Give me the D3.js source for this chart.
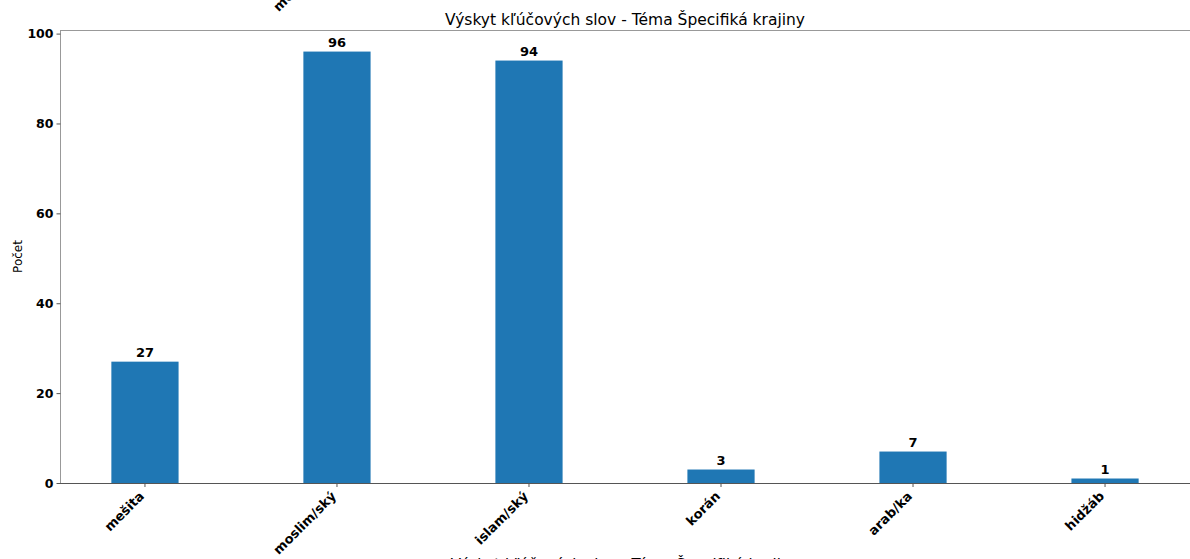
<!DOCTYPE html>
<html>
<head>
<meta charset="utf-8">
<script src="https://cdn.jsdelivr.net/npm/d3@7"></script>
<style>
  body { margin: 0; background: #fff; }
  svg { font-family: "DejaVu Sans", sans-serif; display: block; }
  .tick-lbl { font-size: 13px; font-weight: bold; fill: #000; }
  .val-lbl { font-size: 13px; font-weight: bold; fill: #000; }
</style>
</head>
<body>
<div id="chart"></div>
<script>
// keyword counts
var categories = ["mešita", "moslim/ský", "islam/ský", "korán", "arab/ka", "hidžáb"];
var counts = [27, 96, 94, 3, 7, 1];
var yTicks = [0, 20, 40, 60, 80, 100];
var chartTitle = "Výskyt kľúčových slov - Téma Špecifiká krajiny";
var yLabel = "Počet";

var width = 1190, height = 559;
var margin = {top: 30, right: 0, bottom: 76, left: 60};
var barWidth = 0.35;

var svg = d3.select("#chart").append("svg")
    .attr("width", width)
    .attr("height", height);

var x = d3.scaleLinear()
    .domain([-barWidth / 2 - 0.2675, categories.length - 1 + barWidth / 2 + 0.2675])
    .range([margin.left, width - margin.right]);

var y = d3.scaleLinear()
    .domain([0, d3.max(counts) * 1.05])
    .range([height - margin.bottom, margin.top]);

var y0 = y(0);

// bars
svg.selectAll(".bar")
    .data(counts)
    .enter()
    .append("rect")
    .attr("class", "bar")
    .attr("x", function(d, i) { return x(i - barWidth / 2); })
    .attr("width", function(d, i) { return x(i + barWidth / 2) - x(i - barWidth / 2); })
    .attr("y", function(d) { return y(d); })
    .attr("height", function(d) { return y0 - y(d); })
    .attr("fill", "#1f77b4");

// value labels
svg.selectAll(".val-lbl")
    .data(counts)
    .enter()
    .append("text")
    .attr("class", "val-lbl")
    .attr("x", function(d, i) { return x(i); })
    .attr("y", function(d) { return y(d) - 5; })
    .attr("text-anchor", "middle")
    .text(function(d) { return d; });

// spines
svg.append("line").attr("x1", margin.left).attr("x2", width)
    .attr("y1", margin.top + 0.5).attr("y2", margin.top + 0.5)
    .attr("stroke", "#999").attr("stroke-width", 1);
svg.append("line").attr("x1", margin.left + 0.5).attr("x2", margin.left + 0.5)
    .attr("y1", margin.top).attr("y2", y0)
    .attr("stroke", "#999").attr("stroke-width", 1);
svg.append("line").attr("x1", margin.left).attr("x2", width)
    .attr("y1", y0 + 0.5).attr("y2", y0 + 0.5)
    .attr("stroke", "#555").attr("stroke-width", 1);

// y axis
var yAxis = svg.append("g")
    .attr("transform", "translate(" + (margin.left + 0.5) + ",0)")
    .call(d3.axisLeft(y).tickValues(yTicks).tickSize(4).tickPadding(3));
yAxis.select(".domain").remove();
yAxis.selectAll(".tick line").attr("stroke", "#555");
yAxis.selectAll(".tick text")
    .attr("class", "tick-lbl")
    .style("font-family", "DejaVu Sans, sans-serif")
    .style("font-size", "12.5px")
    .attr("font-size", null);

// x ticks + rotated labels
var xt = svg.selectAll(".xtick")
    .data(categories)
    .enter()
    .append("g")
    .attr("class", "xtick")
    .attr("transform", function(d, i) { return "translate(" + x(i) + "," + y0 + ")"; });
xt.append("line").attr("y1", 0).attr("y2", 4).attr("stroke", "#555");
xt.append("text")
    .attr("class", "tick-lbl")
    .attr("text-anchor", "end")
    .attr("transform", "translate(0,14) rotate(-45)")
    .text(function(d) { return d; });

// title
svg.append("text")
    .attr("x", (margin.left + width) / 2)
    .attr("y", 25)
    .attr("text-anchor", "middle")
    .style("font-size", "15.5px")
    .text(chartTitle);

// y label
svg.append("text")
    .attr("transform", "translate(22," + ((margin.top + y0) / 2) + ") rotate(-90)")
    .attr("text-anchor", "middle")
    .style("font-size", "12px")
    .text(yLabel);

// x label (clipped at bottom)
svg.append("text")
    .attr("x", (margin.left + width) / 2)
    .attr("y", 570)
    .attr("text-anchor", "middle")
    .style("font-size", "15px")
    .text(chartTitle);

// leftover label of the plot above (clipped at top)
svg.append("text")
    .attr("class", "tick-lbl")
    .attr("text-anchor", "end")
    .attr("transform", "translate(" + x(1) + "," + (y0 + 14 - 543) + ") rotate(-45)")
    .text(categories[1]);
</script>
</body>
</html>
